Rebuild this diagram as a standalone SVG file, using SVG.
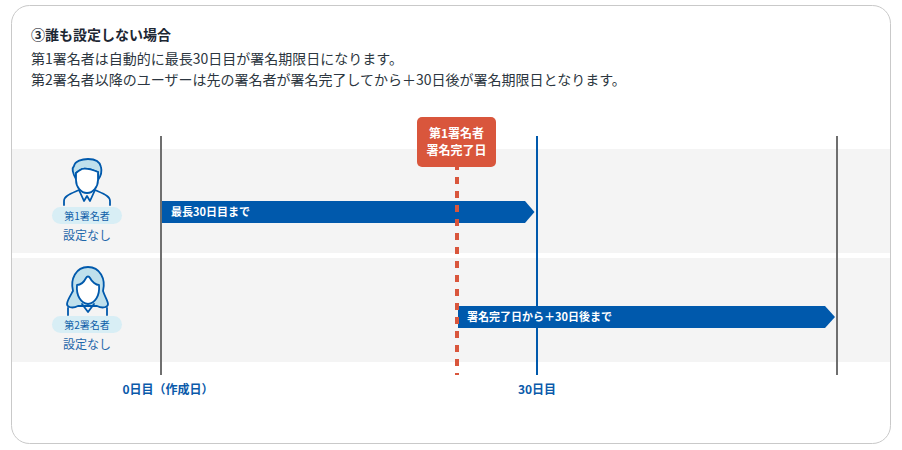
<svg xmlns="http://www.w3.org/2000/svg" width="902" height="450" viewBox="0 0 902 450">
<style>
text{font-family:"Noto Sans CJK JP","Noto Sans",sans-serif}
.head{font-size:14px;font-weight:700;fill:#1d2733}
.body{font-size:14px;fill:#2c3640}
.pill{font-size:10px;fill:#0f5ea8;text-anchor:middle}
.set{font-size:12px;fill:#1f67aa;text-anchor:middle}
.bar{font-size:11px;font-weight:700;fill:#fff}
.day{font-size:12px;font-weight:700;fill:#0a5aaa;text-anchor:middle}
.call{font-size:12px;font-weight:700;fill:#fff;text-anchor:middle}
.ln{fill:none;stroke:#0059ac;stroke-width:1.800;stroke-linejoin:round;stroke-linecap:round}
</style>
<rect x="11.500" y="5.500" width="879" height="438" rx="18" fill="#fff" stroke="#c9c9c9"/>
<g id="intro">
<text class="head" x="31" y="40">③誰も設定しない場合</text>
<text class="body" x="31" y="64">第1署名者は自動的に最長30日目が署名期限日になります。</text>
<text class="body" x="31" y="85">第2署名者以降のユーザーは先の署名者が署名完了してから＋30日後が署名期限日となります。</text>
</g>
<rect x="12" y="149" width="878" height="104" fill="#f4f4f4"/>
<rect x="12" y="258" width="878" height="104" fill="#f4f4f4"/>
<g id="connectors">
<line x1="161" y1="136" x2="161" y2="375" stroke="#6f6f6f" stroke-width="2"/>
<line x1="837" y1="136" x2="837" y2="375" stroke="#6f6f6f" stroke-width="2"/>
<line x1="537" y1="136" x2="537" y2="375" stroke="#0059ac" stroke-width="2"/>
</g>
<g id="bar1">
<polygon points="162,201 525,201 534.500,212 525,223 162,223" fill="#0059ac"/>
<text class="bar" x="171" y="216">最長30日目まで</text>
</g>
<g id="bar2">
<polygon points="458,306 825,306 835,317 825,328 458,328" fill="#0059ac"/>
<text class="bar" x="467" y="321">署名完了日から＋30日後まで</text>
</g>
<g id="marker">
<line x1="457" y1="163" x2="457" y2="375" stroke="#d9563c" stroke-width="4" stroke-dasharray="7 7"/>
<rect x="417" y="117" width="79" height="50" rx="5" fill="#d9563c"/>
<text class="call" x="456.500" y="138">第1署名者</text>
<text class="call" x="456.500" y="155">署名完了日</text>
</g>
<g id="user1">
<path d="M76 179 C72 172 72 168 74 166 C75 161 82 159 88 159 C95 159 100 162 101 167 C102 171 101 176 98 180 L98 172 C93 170 86 168 82 169 C80 170 78 171 76 173 Z" fill="#bfe0ec" stroke="#0059ac" stroke-width="1.800" stroke-linejoin="round"/>
<path d="M76 173 C78 171 80 170 82 169 C86 168 93 170 98 172 L98 180 C98 187 93 193 87 193 C81 193 76 187 76 180 Z" fill="#fff" stroke="#0059ac" stroke-width="1.800" stroke-linejoin="round"/>
<path class="ln" d="M64 205 L64 201 C64 196 70 194 79 190 L84 201 L87 196 L90 201 L95 190 C104 194 110 196 110 201 L110 205"/>
<rect x="52" y="207" width="70" height="17" rx="8.500" fill="#d8eef5"/>
<text class="pill" x="87" y="220">第1署名者</text>
<text class="set" x="87" y="240">設定なし</text>
</g>
<g id="user2">
<path d="M73 291 C69 298 67 301 67 304 C67 307 72 309 78 306 L97 306 C103 309 108 307 108 304 C108 301 105 297 103 291 C106 279 100 267 88 267 C76 267 70 279 73 291 Z" fill="#bfe0ec" stroke="#0059ac" stroke-width="1.800" stroke-linejoin="round"/>
<path d="M77 285 C81 285 84 282 86 278 C87 276 89 276 90 278 C92 282 96 285 99 285 C100 296 95 303 88 304 C81 303 76 296 77 285 Z" fill="#fff" stroke="#0059ac" stroke-width="1.800" stroke-linejoin="round"/>
<path class="ln" d="M82 304 L88 312 L94 304"/>
<path class="ln" d="M68 315 L68 308 M107 315 L107 308"/>
<rect x="52" y="316" width="70" height="17" rx="8.500" fill="#d8eef5"/>
<text class="pill" x="87" y="329">第2署名者</text>
<text class="set" x="87" y="349">設定なし</text>
</g>
<g id="axis">
<text class="day" x="168" y="394">0日目（作成日）</text>
<text class="day" x="537" y="394">30日目</text>
</g>
</svg>
